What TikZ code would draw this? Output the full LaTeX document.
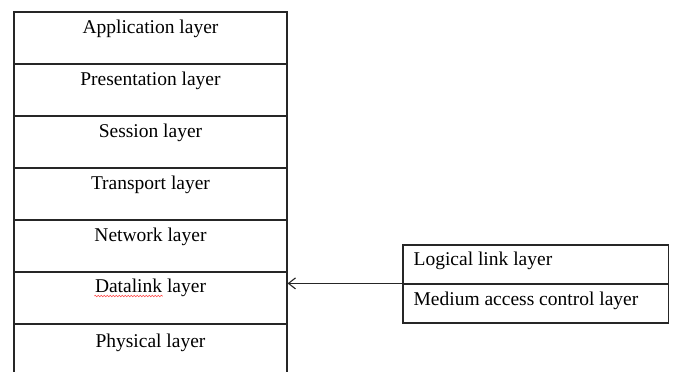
\documentclass[tikz,border=0pt]{standalone}
\usepackage{fontspec}
\setmainfont{Liberation Serif}
\usetikzlibrary{arrows.meta,decorations.pathmorphing}
\begin{document}
\begin{tikzpicture}[x=1pt,y=-1pt,
  line width=1.2pt,
  every node/.style={font=\fontsize{19.5}{22}\selectfont, inner sep=0pt, text=black},
  row/.style={minimum width=273pt, minimum height=52pt, draw=none},
  sub/.style={minimum width=265.5pt, minimum height=39pt, draw=black!85, line width=1.2pt},
  lbl/.style={anchor=base},
  lbll/.style={anchor=base west},
  arr/.style={draw=black!85, line width=1.1pt, -{Straight Barb[length=7pt,width=11pt,line width=1.1pt]}}
]
\useasboundingbox (0,0) rectangle (673,372);
% left stack row areas
\node[row] (app) at (150.5,38) {};
\node[row] (pres) at (150.5,90) {};
\node[row] (sess) at (150.5,142) {};
\node[row] (trans) at (150.5,194) {};
\node[row] (net) at (150.5,246) {};
\node[row] (dl) at (150.5,298) {};
\node[row] (phy) at (150.5,350) {};
% outline
\draw[black!85] (14,372) -- (14,12) -- (287,12) -- (287,372);
\foreach \yy in {64,116,168,220,272,324} \draw[black!85] (14,\yy) -- (287,\yy);
% labels
\node[lbl] (tapp) at (150.5,33) {Application layer};
\node[lbl] (tpres) at (150.5,85) {Presentation layer};
\node[lbl] (tsess) at (150.5,137) {Session layer};
\node[lbl] (ttrans) at (150.5,189) {Transport layer};
\node[lbl] (tnet) at (150.5,241) {Network layer};
\node[lbl] (tdl) at (150.5,292) {\hphantom{Datalink layer}};
\node[anchor=base west] (tdlw) at (tdl.base west) {Datalink};
\node[anchor=base east] (tdll) at (tdl.base east) {layer};
\draw[red!80, line width=0.5pt, decorate, decoration={snake, amplitude=0.8pt, segment length=3pt}]
  ([yshift=-4pt]tdlw.base west) -- ([yshift=-4pt]tdlw.base east);
\node[lbl] (tphy) at (150.5,347) {Physical layer};
% right box
\node[sub] (llc) at (535.75,264.5) {};
\node[sub] (mac) at (535.75,303.5) {};
\node[lbll] (tllc) at (413,265) {Logical link layer};
\node[lbll] (tmac) at (413,305) {Medium access control layer};
% connector
\draw[arr] (mac.north west) -- (dl.east |- mac.north west);
\end{tikzpicture}
\end{document}
